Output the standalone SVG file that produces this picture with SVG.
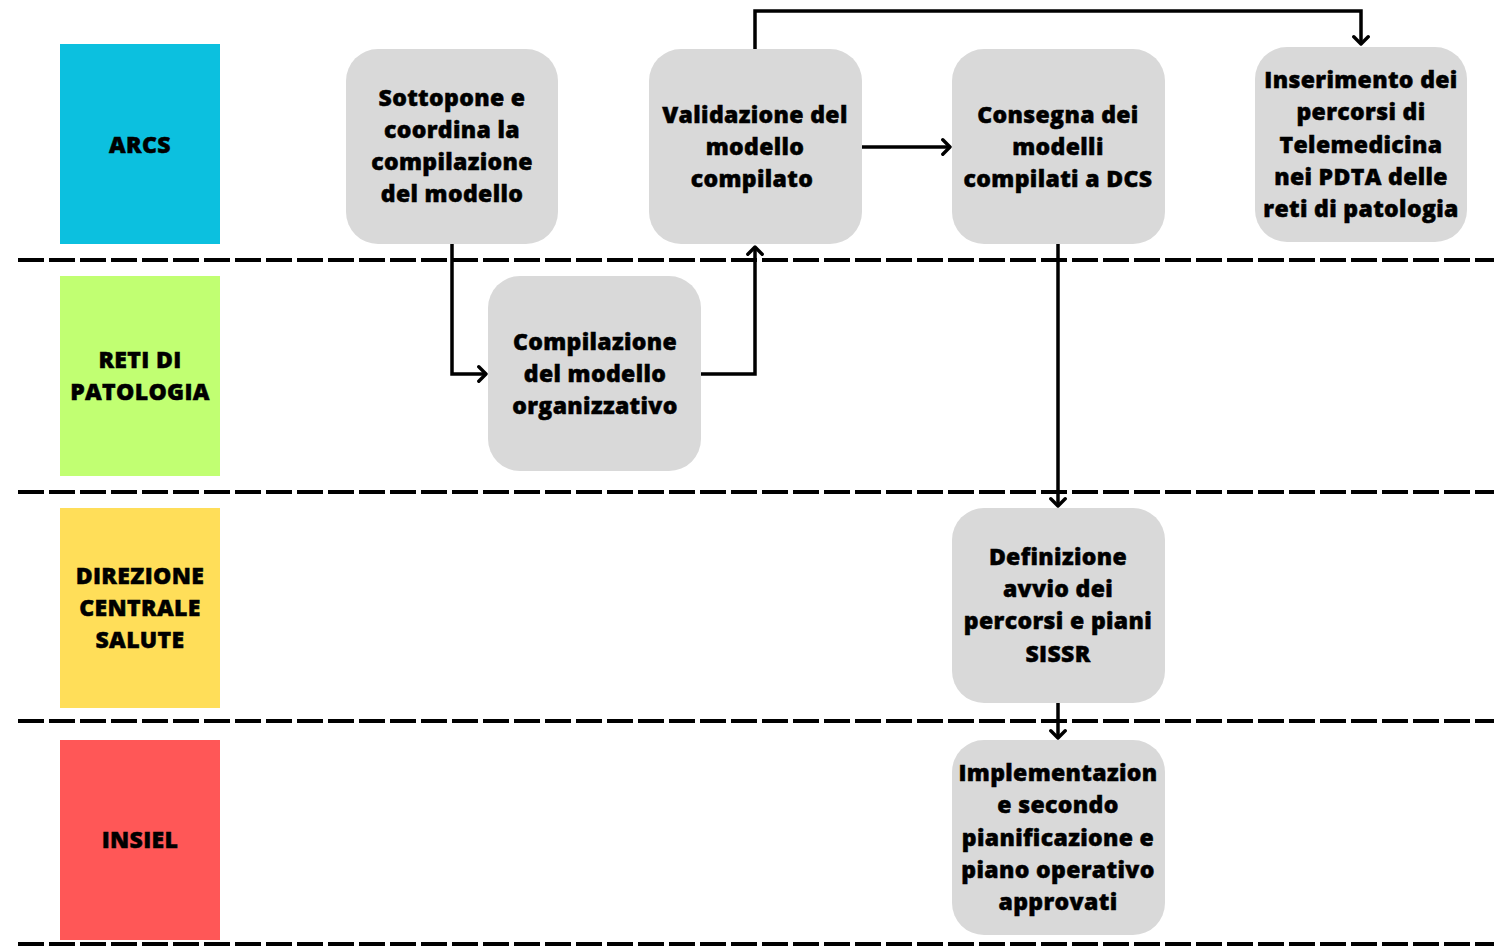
<svg xmlns="http://www.w3.org/2000/svg" width="1504" height="947" viewBox="0 0 1504 947">
<defs>
<style>
text{font-family:"Open Sans","Noto Sans","Liberation Sans",sans-serif;font-weight:800;font-size:23px;letter-spacing:0.35px;fill:#000;stroke:#000;stroke-width:0.5px;text-anchor:middle}
.node{fill:#d9d9d9}
.sep{stroke:#000;stroke-width:4;stroke-dasharray:26 5;fill:none}
.conn{stroke:#000;stroke-width:3.5;fill:none}
</style>
<marker id="arr" markerUnits="userSpaceOnUse" viewBox="0 0 11 18" markerWidth="11" markerHeight="18" refX="9" refY="9" orient="auto">
<path d="M1.8,1.8 L9,9 L1.8,16.2" fill="none" stroke="#000" stroke-width="3.4" stroke-linecap="round" stroke-linejoin="round"/>
</marker>
</defs>
<rect width="1504" height="947" fill="#fff"/>
<g id="separators">
<line class="sep" x1="18" y1="260" x2="1494" y2="260"/>
<line class="sep" x1="18" y1="492" x2="1494" y2="492"/>
<line class="sep" x1="18" y1="721" x2="1494" y2="721"/>
<line class="sep" x1="18" y1="944" x2="1494" y2="944"/>
</g>
<g id="lane-arcs"><rect x="60" y="44" width="160" height="200" fill="#0cc0df"/><text x="140" y="153">ARCS</text></g>
<g id="lane-reti"><rect x="60" y="276" width="160" height="200" fill="#c1ff72"/><text x="140" y="368">RETI DI</text><text x="140" y="400">PATOLOGIA</text></g>
<g id="lane-dcs"><rect x="60" y="508" width="160" height="200" fill="#ffde59"/><text x="140" y="584">DIREZIONE</text><text x="140" y="616">CENTRALE</text><text x="140" y="648">SALUTE</text></g>
<g id="lane-insiel"><rect x="60" y="740" width="160" height="200" fill="#ff5757"/><text x="140" y="848">INSIEL</text></g>
<g id="connectors">
<polyline class="conn" points="452,244 452,374 486,374" marker-end="url(#arr)"/>
<polyline class="conn" points="701,374 755,374 755,247" marker-end="url(#arr)"/>
<polyline class="conn" points="755,49 755,11 1361,11 1361,44" marker-end="url(#arr)"/>
<polyline class="conn" points="862,147 950,147" marker-end="url(#arr)"/>
<polyline class="conn" points="1058,244 1058,506" marker-end="url(#arr)"/>
<polyline class="conn" points="1058,703 1058,738" marker-end="url(#arr)"/>
</g>
<g id="n-sottopone"><rect class="node" x="346" y="49" width="212" height="195" rx="32"/>
<text x="452" y="106">Sottopone e</text><text x="452" y="138">coordina la</text><text x="452" y="170">compilazione</text><text x="452" y="202">del modello</text></g>
<g id="n-validazione"><rect class="node" x="649" y="49" width="213" height="195" rx="32"/>
<text x="755" y="123">Validazione del</text><text x="755" y="155">modello</text><text x="752" y="187">compilato</text></g>
<g id="n-consegna"><rect class="node" x="952" y="49" width="213" height="195" rx="32"/>
<text x="1058" y="123">Consegna dei</text><text x="1058" y="155">modelli</text><text x="1058" y="187">compilati a DCS</text></g>
<g id="n-inserimento"><rect class="node" x="1255" y="47" width="212" height="195" rx="32"/>
<text x="1361" y="88">Inserimento dei</text><text x="1361" y="120">percorsi di</text><text x="1361" y="153">Telemedicina</text><text x="1361" y="185">nei PDTA delle</text><text x="1361" y="217">reti di patologia</text></g>
<g id="n-compilazione"><rect class="node" x="488" y="276" width="213" height="195" rx="32"/>
<text x="595" y="350">Compilazione</text><text x="595" y="382">del modello</text><text x="595" y="414">organizzativo</text></g>
<g id="n-definizione"><rect class="node" x="952" y="508" width="213" height="195" rx="32"/>
<text x="1058" y="565">Definizione</text><text x="1058" y="597">avvio dei</text><text x="1058" y="629">percorsi e piani</text><text x="1058" y="662">SISSR</text></g>
<g id="n-implementazione"><rect class="node" x="952" y="740" width="213" height="195" rx="32"/>
<text x="1058" y="781">Implementazion</text><text x="1058" y="813">e secondo</text><text x="1058" y="846">pianificazione e</text><text x="1058" y="878">piano operativo</text><text x="1058" y="910">approvati</text></g>
</svg>
